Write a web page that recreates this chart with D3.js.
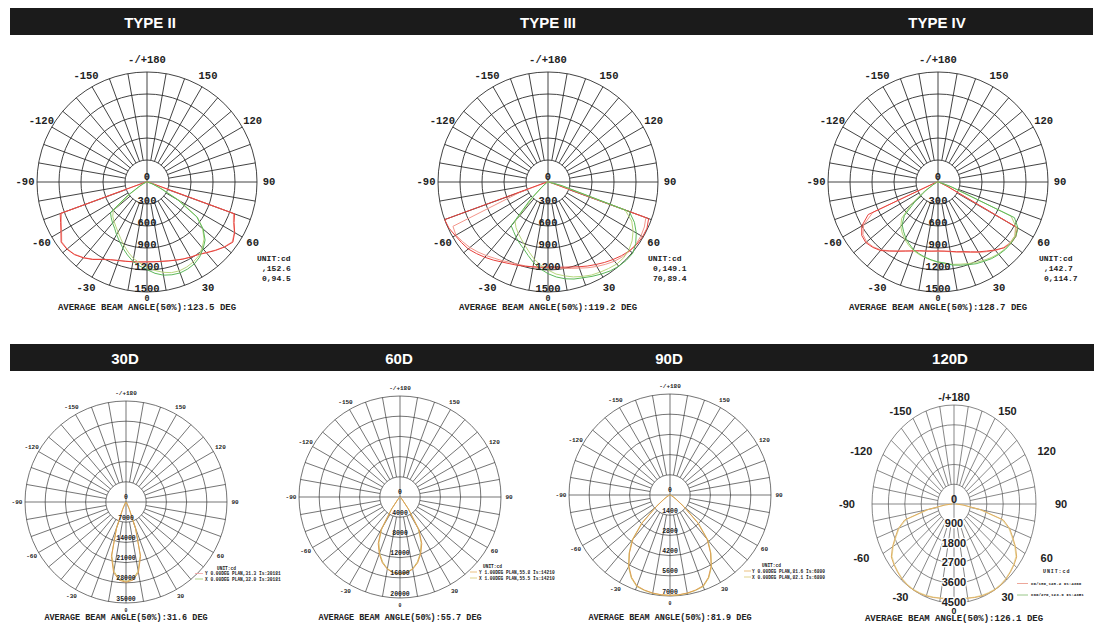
<!DOCTYPE html>
<html><head><meta charset="utf-8">
<script src="https://cdn.jsdelivr.net/npm/d3@7"></script>
<style>body{margin:0;background:#fff}svg{display:block}</style>
</head><body><svg id="c" width="1104" height="626"></svg>
<script>
// ---------- DATA ----------
const angles = [-90,-85,-80,-75,-70,-65,-60,-55,-50,-45,-40,-35,-30,-25,-20,-15,-10,-5,0,5,10,15,20,25,30,35,40,45,50,55,60,65,70,75,80,85,90];
const angleTicks = [180,150,120,90,60,30,-30,-60,-90,-120,-150];

const titlesTop = ["TYPE II","TYPE III","TYPE IV"];
const titlesBottom = ["30D","60D","90D","120D"];

const ticksTop = [300,600,900,1200,1500];
const ticks30 = [7000,14000,21000,28000,35000];
const ticks60 = [4000,8000,12000,16000,20000];
const ticks90 = [1400,2800,4200,5600,7000];
const ticks120 = [900,1800,2700,3600,4500];

const typeII_red   = [0,5,15,60, 1260,1300,1355,1430,1425,1400,1350,1290,1220,1170,1140,1120,1105,1095, 1090, 1092,1100,1115,1135,1160,1185,1210,1260,1320,1380,1430,1380,1310,1270, 60,15,5,0];
const typeII_red2  = [0,5,12,50, 1240,1290,1345,1420,1420,1395,1345,1285,1215,1168,1138,1118,1103,1093, 1088, 1090,1098,1112,1132,1158,1182,1208,1255,1315,1375,1420,1375,1300,1255, 50,12,5,0];
const typeII_green = [0,0,5,10, 20,60,130,330,650,690,730,770,830,890,960,1030,1100,1150, 1195, 1250,1290,1310,1320,1310,1290,1250,1190,1120,1000,830,480,200,80, 30,10,5,0];
const typeII_green2= [0,0,5,10, 15,50,100,280,600,660,700,740,790,850,920,990,1060,1110, 1160, 1210,1250,1280,1290,1280,1260,1230,1170,1100,990,840,520,220,90, 30,10,5,0];

const typeIII_red   = [0,5,15,60, 1500,1490,1460,1440,1420,1380,1340,1300,1260,1230,1210,1190,1175,1165, 1160, 1165,1180,1200,1230,1265,1300,1340,1380,1420,1455,1480,1490,1490,1460, 60,15,5,0];
const typeIII_red2  = [0,5,10,30, 400,1430,1450,1420,1390,1350,1310,1270,1240,1210,1195,1185,1175,1170, 1170, 1180,1195,1220,1250,1290,1330,1370,1410,1440,1460,1470,1465,1450,1420, 50,12,5,0];
const typeIII_green = [0,0,5,10, 20,20,20,50,120,350,780,820,870,920,970,1040,1120,1190, 1250, 1300,1340,1370,1390,1420,1450,1480,1500,1510,1510,1460,1390,1300,1180, 200,30,5,0];
const typeIII_green2= [0,0,5,10, 15,15,15,40,100,280,700,760,810,860,920,990,1070,1140, 1200, 1260,1300,1340,1370,1400,1420,1440,1460,1460,1440,1400,1340,1260,1120, 180,30,5,0];

const typeIV_red    = [0,5,10,30, 80,1050,1200,1270,1285,1260,1220,1150,1090,1040,1000,970,955,945, 940, 945,960,985,1010,1050,1100,1150,1210,1270,1300,1295,1250,150,40, 15,5,0,0];
const typeIV_red2   = [0,5,10,25, 70,980,1170,1250,1270,1250,1210,1145,1085,1035,1000,975,960,950, 945, 950,965,990,1020,1060,1110,1160,1220,1265,1285,1280,1220,120,35, 12,5,0,0];
const typeIV_green  = [0,0,5,10, 20,40,80,200,400,650,760,820,880,930,980,1010,1040,1065, 1090, 1110,1150,1175,1200,1230,1250,1275,1290,1300,1300,1295,1260,1150,200, 40,10,0,0];
const typeIV_green2 = [0,0,5,10, 20,40,90,250,480,700,790,850,905,950,990,1020,1045,1070, 1095, 1115,1140,1160,1185,1210,1235,1260,1280,1290,1290,1280,1230,1100,180, 35,10,0,0];

const beam30_a = [0,5,10,15, 20,30,40,50,60,80,150,300,700,2500,9500,19500,24800,27200, 27800, 27200,24800,19500,9500,2500,700,300,150,80,60,50,40,30,20, 15,10,5,0];
const beam30_b = [0,5,10,15, 20,30,40,50,60,70,140,320,800,2800,9800,19000,24300,26900, 27500, 26900,24300,19000,9800,2800,800,320,140,70,60,50,40,30,20, 15,10,5,0];

const beam60_a = [0,5,10,20, 20,40,60,100,150,300,700,2800,7500,10200,12000,13500,14500,15100, 15300, 15100,14500,13500,12000,10200,7500,2800,700,300,150,100,60,40,20, 20,10,5,0];
const beam60_b = [0,5,10,20, 20,40,60,100,150,350,800,3000,7200,9900,11800,13300,14400,15000, 15200, 15000,14400,13300,11800,9900,7200,3000,800,350,150,100,60,40,20, 20,10,5,0];

const beam90_a = [0,5,10,30, 60,120,250,500,1200,2700,4000,4900,5700,6300,6700,6820,6900,6940, 6950, 6940,6900,6820,6700,6300,5700,4900,4000,2700,1200,500,250,120,60, 30,10,5,0];
const beam90_b = [0,5,10,30, 70,140,280,550,1300,2800,4100,4950,5750,6350,6750,6850,6920,6950, 6960, 6950,6920,6850,6750,6350,5750,4950,4100,2800,1300,550,280,140,70, 30,10,5,0];

const beam120_a = [100,500,1500,2800, 3250,3550,3900,4200,4300,4380,4450,4490,4500,4480,4450,4400,4350,4320, 4300, 4320,4350,4400,4450,4480,4500,4490,4450,4380,4300,4200,3900,3550,3250, 2800,1500,500,100];
const beam120_b = [80,450,1400,2700, 3200,3500,3850,4150,4270,4350,4420,4460,4470,4450,4420,4380,4340,4310, 4300, 4310,4340,4380,4420,4450,4470,4460,4420,4350,4270,4150,3850,3500,3200, 2700,1400,450,80];

const beamAngles = ["123.5","119.2","128.7","31.6","55.7","81.9","126.1"];
const legendTop = [[",152.6","0,94.5"],["0,149.1","70,89.4"],[",142.7","0,114.7"]];
const legendBottom = [
  ["Y 0.00DEG PLAN,31.3 Is:30181","X 0.00DEG PLAN,32.0 Is:30181"],
  ["Y 1.00DEG PLAN,55.8 Is:14210","X 1.00DEG PLAN,55.5 Is:14210"],
  ["Y 0.00DEG PLAN,81.6 Is:6800","X 0.00DEG PLAN,82.1 Is:6800"],
  ["C0/180,128.2 Is:4360","C90/270,123.9 Is:4351"]
];

// ---------- DRAWING ----------
const svg = d3.select("#c");
const MONO = "'Liberation Mono','DejaVu Sans Mono',monospace";
const SANS = "'Liberation Sans',Arial,sans-serif";
const RAD = Math.PI/180;

svg.append("rect").attr("x",10).attr("y",8).attr("width",1083).attr("height",27).attr("fill","#1b1b1b");
svg.append("rect").attr("x",10).attr("y",344).attr("width",1084).attr("height",27).attr("fill","#1b1b1b");
const topTitleX = [150,548,937], botTitleX = [125,399,669,950];
titlesTop.forEach((t,i)=>svg.append("text").attr("x",topTitleX[i]).attr("y",22).attr("text-anchor","middle")
  .attr("dominant-baseline","central").attr("fill","#fff").attr("font-family",SANS).attr("font-weight","bold")
  .attr("font-size",15).text(t));
titlesBottom.forEach((t,i)=>svg.append("text").attr("x",botTitleX[i]).attr("y",358).attr("text-anchor","middle")
  .attr("dominant-baseline","central").attr("fill","#fff").attr("font-family",SANS).attr("font-weight","bold")
  .attr("font-size",15).text(t));

function drawPolar(c){
  const g = svg.append("g");
  const maxV = c.ticks[c.ticks.length-1];
  const r = d3.scaleLinear().domain([0,maxV]).range([0,1]);
  const px = (a,t)=> c.cx + t*c.rx*Math.sin(a*RAD);
  const py = (a,t)=> c.cy + t*c.ry*Math.cos(a*RAD);
  c.ticks.forEach(v=>{
    g.append("ellipse").attr("cx",c.cx).attr("cy",c.cy).attr("rx",r(v)*c.rx).attr("ry",r(v)*c.ry)
      .attr("fill","none").attr("stroke",c.grid).attr("stroke-width",c.gw);
  });
  d3.range(0,360,10).forEach(a=>{
    const t0 = (a%90===0)?0:r(c.ticks[0]);
    g.append("line").attr("x1",px(a,t0)).attr("y1",py(a,t0)).attr("x2",px(a,1)).attr("y2",py(a,1))
      .attr("stroke",c.grid).attr("stroke-width",c.gw);
  });
  const line = d3.line().x(d=>px(d[0],r(d[1]))).y(d=>py(d[0],r(d[1])));
  c.series.forEach(s=>{
    g.append("path").attr("d",line(angles.map((a,i)=>[a,s.values[i]])))
      .attr("fill","none").attr("stroke",s.color).attr("stroke-width",s.w||1).attr("stroke-linejoin","round");
  });
  angleTicks.forEach(a=>{
    g.append("text").attr("x",c.cx + c.labelR*Math.sin(a*RAD)).attr("y",c.cy + c.labelR*Math.cos(a*RAD))
      .attr("text-anchor","middle").attr("dominant-baseline","central")
      .attr("font-family",c.af).attr("font-weight","bold").attr("font-size",c.afs).attr("fill","#222")
      .text(a===180?"-/+180":String(a));
  });
  g.append("text").attr("x",c.cx).attr("y",c.cy + c.ry + c.zOff).attr("text-anchor","middle").attr("dominant-baseline","central")
    .attr("font-family",c.af).attr("font-weight","bold").attr("font-size",c.afs*0.8).attr("fill","#222").text("0");
  g.append("text").attr("x",c.cx).attr("y",c.cy-5).attr("text-anchor","middle").attr("dominant-baseline","central")
    .attr("font-family",c.rf).attr("font-weight","bold").attr("font-size",c.rfs).attr("fill","#222").text("0");
  c.ticks.forEach(v=>{
    const tx = g.append("text").attr("x",c.cx).attr("y",c.cy + r(v)*c.ry - c.rOff).attr("text-anchor","middle")
      .attr("dominant-baseline","central").attr("font-family",c.rf).attr("font-weight","bold")
      .attr("font-size",c.rfs).attr("fill","#222").text(v);
    if(c.halo) tx.attr("stroke","#fff").attr("stroke-width",2.5).attr("paint-order","stroke");
  });
  g.append("text").attr("x",c.cx).attr("y",c.beamY).attr("text-anchor","middle").attr("dominant-baseline","central")
    .attr("font-family",MONO).attr("font-weight","bold").attr("font-size",c.bfs).attr("fill","#222")
    .text("AVERAGE BEAM ANGLE(50%):"+c.beam+" DEG");
  const L = c.legend;
  g.append("text").attr("x",L.x).attr("y",L.y).attr("dominant-baseline","central").attr("font-family",MONO)
    .attr("font-weight","bold").attr("font-size",L.ufs||L.fs).attr("letter-spacing",L.ls||0).attr("fill","#222").text("UNIT:cd");
  L.lines.forEach((t,i)=>{
    const y = L.y + L.dy*(i+1);
    if(L.sample){
      g.append("line").attr("x1",L.sx).attr("x2",L.sx+L.sw).attr("y1",y).attr("y2",y)
        .attr("stroke",L.sample[i]).attr("stroke-width",0.8);
    }
    g.append("text").attr("x",L.tx).attr("y",y).attr("dominant-baseline","central").attr("font-family",MONO)
      .attr("font-weight","bold").attr("font-size",L.fs).attr("fill","#222").text(t);
  });
}

const RED="#e8413c", SALMON="#f3958a", GREEN="#5cb85a", LGREEN="#b7d67c";
const ORANGE="#dd9f55", YELLOW="#d0c46c";

const topCx = [147,548,938];
const topSeries = [
  [typeII_red2,typeII_red,typeII_green2,typeII_green],
  [typeIII_red2,typeIII_red,typeIII_green2,typeIII_green],
  [typeIV_red2,typeIV_red,typeIV_green2,typeIV_green]
];
const topLegX = [257,648,1039];
topCx.forEach((cx,i)=>{
  drawPolar({cx, cy:182, rx:110, ry:110, ticks:ticksTop, grid:"#2e2e2e", gw:0.9,
    series:[{values:topSeries[i][0],color:SALMON},{values:topSeries[i][1],color:RED},
            {values:topSeries[i][2],color:LGREEN},{values:topSeries[i][3],color:GREEN}],
    labelR:122, af:MONO, afs:10.5, rf:MONO, rfs:10.5, rOff:3, zOff:7, beamY:308, bfs:9, beam:beamAngles[i],
    legend:{x:topLegX[i], y:258, dy:10, tx:topLegX[i]+5, fs:8, lines:legendTop[i]}});
});

const botCfg = [
  {cx:126, cy:502, ticks:ticks30, s:[beam30_a,beam30_b], leg:{x:217,y:568,tx:205,sx:195,sw:8,dy:5.5}, samp:["#f2a0a0","#9cc86a"]},
  {cx:400, cy:497, ticks:ticks60, s:[beam60_a,beam60_b], leg:{x:483,y:566,tx:479,sx:470,sw:7,dy:6}, samp:["#e6b060","#d8c870"]},
  {cx:670, cy:495, ticks:ticks90, s:[beam90_a,beam90_b], leg:{x:762,y:565,tx:752,sx:744,sw:7,dy:6}, samp:["#e6b060","#d8c870"]}
];
botCfg.forEach((b,i)=>{
  drawPolar({cx:b.cx, cy:b.cy, rx:101, ry:101, ticks:b.ticks, grid:"#3a3a3a", gw:0.7,
    series:[{values:b.s[1],color:YELLOW},{values:b.s[0],color:ORANGE}],
    labelR:109, af:MONO, afs:6, rf:MONO, rfs:6.5, rOff:4, zOff:7, beamY:618, bfs:8.5, beam:beamAngles[3+i],
    legend:{x:b.leg.x, y:b.leg.y, dy:b.leg.dy, tx:b.leg.tx, fs:4.5, lines:legendBottom[i],
            sample:b.samp, sx:b.leg.sx, sw:b.leg.sw}});
});

drawPolar({cx:954, cy:504, rx:82, ry:99, ticks:ticks120, grid:"#555", gw:0.7,
  series:[{values:beam120_b,color:"#e6d8a0"},{values:beam120_a,color:"#deae62"}],
  labelR:107, af:SANS, afs:11, rf:SANS, rfs:11, rOff:1, zOff:8, halo:true, beamY:619, bfs:9, beam:beamAngles[6],
  legend:{x:1043, y:572, dy:11.5, tx:1031, fs:4.2, ufs:5, ls:0.9, lines:legendBottom[3],
          sample:["#e89080","#7fb86a"], sx:1017, sw:11}});
</script>
</body></html>
